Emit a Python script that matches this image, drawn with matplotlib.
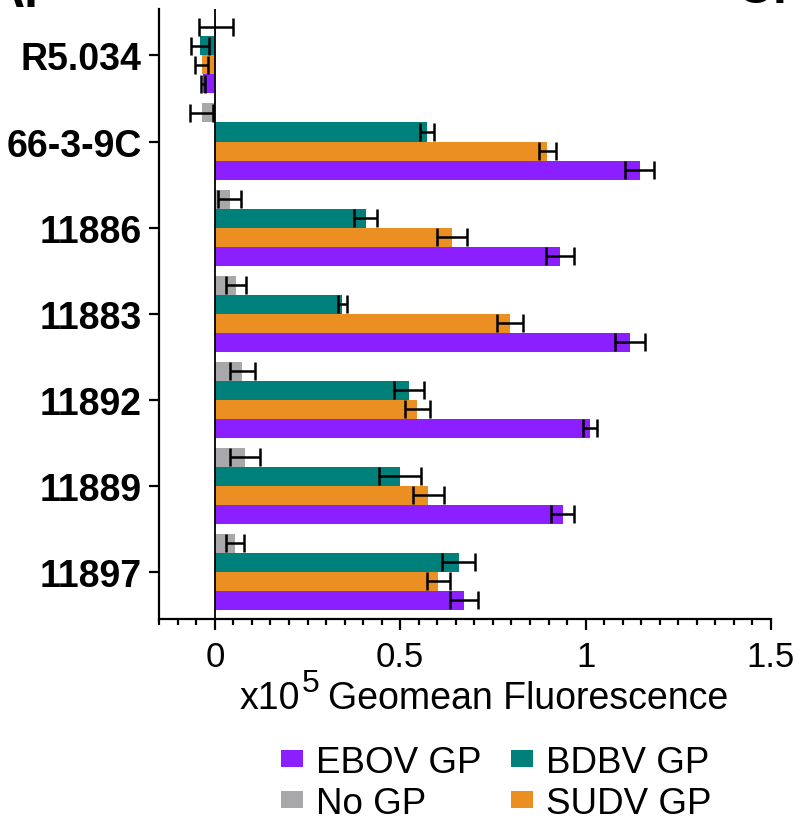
import matplotlib
matplotlib.use('Agg')
import matplotlib.pyplot as plt
import matplotlib.ticker as ticker
import numpy as np

plt.rcParams['font.family'] = ['Liberation Sans', 'DejaVu Sans']

# antibodies, top to bottom
antibodies = ['R5.034', '66-3-9C', '11886', '11883', '11892', '11889', '11897']

# x10^5 geomean fluorescence (mean and error)
no_gp = [0.003, -0.036, 0.040, 0.057, 0.074, 0.081, 0.054]
no_gp_err = [0.046, 0.031, 0.031, 0.026, 0.034, 0.040, 0.025]
bdbv = [-0.040, 0.572, 0.407, 0.344, 0.523, 0.500, 0.658]
bdbv_err = [0.024, 0.018, 0.031, 0.012, 0.040, 0.056, 0.045]
sudv = [-0.036, 0.897, 0.639, 0.796, 0.546, 0.576, 0.603]
sudv_err = [0.018, 0.022, 0.040, 0.036, 0.034, 0.041, 0.030]
ebov = [-0.033, 1.146, 0.931, 1.119, 1.011, 0.938, 0.673]
ebov_err = [0.005, 0.039, 0.038, 0.041, 0.019, 0.032, 0.038]

colors = {'EBOV GP': '#8B1FFF', 'BDBV GP': '#00807B',
          'No GP': '#A8A8AB', 'SUDV GP': '#EC8F22'}

W, H = 798, 820
fig = plt.figure(figsize=(W / 100, H / 100), dpi=100)
ax = fig.add_axes([0.1996, 0.2439, 0.7665, 0.7439])

pos = np.arange(len(antibodies))
bar_h = 0.221
series = [('No GP', no_gp, no_gp_err, -1.5),
          ('BDBV GP', bdbv, bdbv_err, -0.5),
          ('SUDV GP', sudv, sudv_err, 0.5),
          ('EBOV GP', ebov, ebov_err, 1.5)]

bars = {}
for name, vals, errs, k in series:
    y = pos + k * bar_h
    bars[name] = ax.barh(y, vals, height=bar_h, color=colors[name], label=name, zorder=2)
    ax.errorbar(vals, y, xerr=errs, fmt='none', ecolor='black', elinewidth=1.8,
                capsize=6.5, capthick=1.8, zorder=3)

ax.axvline(0, color='black', lw=1.3, zorder=4)

ax.set_xlim(-0.15, 1.5)
ax.set_ylim(6.55, -0.54)
ax.set_yticks(pos)
ax.set_yticklabels(antibodies, fontsize=27, fontweight='bold')
ax.set_xticks([0, 0.5, 1, 1.5])
ax.set_xticklabels(['0', '0.5', '1', '1.5'], fontsize=25)
ax.xaxis.set_minor_locator(ticker.MultipleLocator(0.05))

for s in ['top', 'right']:
    ax.spines[s].set_visible(False)
for s in ['left', 'bottom']:
    ax.spines[s].set_linewidth(1.6)
ax.tick_params(axis='x', which='major', length=8, width=1.6, pad=7)
ax.tick_params(axis='x', which='minor', length=4.5, width=1.6)
ax.tick_params(axis='y', length=7.5, width=1.6, pad=5)

# x label with a large superscript, built from pieces
renderer = fig.canvas.get_renderer()
x0, yb = 240, H - 709
t1 = fig.text(x0 / W, yb / H, 'x10', fontsize=27, va='baseline')
w1 = t1.get_window_extent(renderer).width
t2 = fig.text((x0 + w1 + 1) / W, (yb + 17) / H, '5', fontsize=23, va='baseline')
w2 = t2.get_window_extent(renderer).width
fig.text((x0 + w1 + w2 + 10) / W, yb / H, 'Geomean Fluorescence', fontsize=27, va='baseline')

order = ['EBOV GP', 'No GP', 'BDBV GP', 'SUDV GP']
fig.legend([bars[n] for n in order], order, ncol=2, frameon=False,
           loc='upper left', bbox_to_anchor=(281 / W, 1 - 746 / H),
           fontsize=26.5, handlelength=0.6, handleheight=0.33,
           handletextpad=0.35, columnspacing=0.8, labelspacing=0.15,
           borderaxespad=0, borderpad=0)

# cropped panel letters at the top edge
fig.text(-11 / W, 1 - 7 / H, 'A.', fontsize=36, fontweight='bold', va='baseline')
fig.text(737 / W, 1 - 3 / H, 'C.', fontsize=36, fontweight='bold', va='baseline')

fig.savefig('out.png', dpi=100)
